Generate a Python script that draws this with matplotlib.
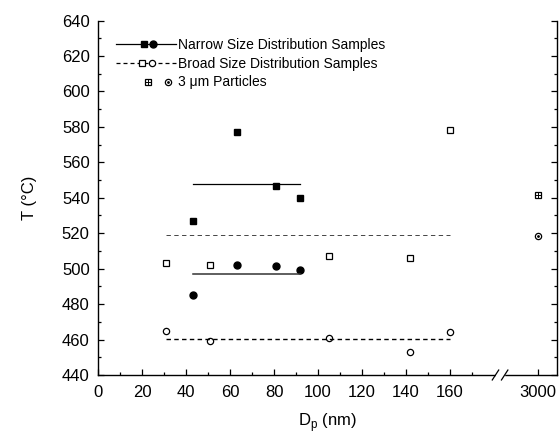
import numpy as np
import matplotlib
matplotlib.use("Agg")
import matplotlib.pyplot as plt
from matplotlib.lines import Line2D
from matplotlib.legend_handler import HandlerBase
from matplotlib.ticker import FixedLocator, FixedFormatter

plt.rcParams['font.family'] = ['Liberation Sans', 'DejaVu Sans']

# ---------------- data ----------------
narrow_dp = [43, 63, 81, 92]
narrow_T_sq = [527, 577, 546.5, 540]
narrow_T_circ = [485, 502, 501.5, 499]
narrow_mean_sq = 548
narrow_mean_circ = 497

broad_dp = [31, 51, 105, 142, 160]
broad_T_sq = [503, 502, 507, 506, 578]
broad_T_circ = [465, 459, 461, 453, 464]
broad_mean_sq = 519
broad_mean_circ = 460.5

particle_dp = [3000]
particle_T_sq = [541.5]
particle_T_circ = [518.5]

x_major = [0, 20, 40, 60, 80, 100, 120, 140, 160, 3000]
x_major_labels = ['0', '20', '40', '60', '80', '100', '120', '140', '160', '3000']
x_minor = [10, 30, 50, 70, 90, 110, 130, 150, 170]
y_major = list(range(440, 641, 20))

# -------------- broken x scale --------------
def fwd(x):
    x = np.asarray(x, float)
    return np.where(x <= 180, x,
                    np.where(x < 2900, 180 + (x - 180) / 2720 * 10,
                             190 + (x - 2900) * 0.1))

def inv(y):
    y = np.asarray(y, float)
    return np.where(y <= 180, y,
                    np.where(y < 190, 180 + (y - 180) * 272,
                             2900 + (y - 190) * 10))

fig = plt.figure(figsize=(5.59, 4.36), dpi=100)
ax = fig.add_axes([0.1753, 0.1399, 0.8211, 0.813])
ax.set_xscale('function', functions=(fwd, inv))
ax.set_xlim(0, 3086)
ax.set_ylim(440, 640)

ms = 5
# narrow
ax.plot(narrow_dp, narrow_T_sq, 's', color='black', ms=ms, ls='none')
ax.plot(narrow_dp, narrow_T_circ, 'o', color='black', ms=ms, ls='none')
ax.plot([narrow_dp[0], narrow_dp[-1]], [narrow_mean_sq] * 2, '-', color='black', lw=0.9)
ax.plot([narrow_dp[0], narrow_dp[-1]], [narrow_mean_circ] * 2, '-', color='#333333', lw=1.1)
# broad
ax.plot(broad_dp, broad_T_sq, 's', mfc='white', mec='black', mew=0.9, ms=ms, ls='none')
ax.plot(broad_dp, broad_T_circ, 'o', mfc='white', mec='black', mew=0.9, ms=ms - 0.5, ls='none')
ax.plot([broad_dp[0], broad_dp[-1]], [broad_mean_sq] * 2, color='#444444', lw=0.7, ls=(0, (4.5, 3.5)))
ax.plot([broad_dp[0], broad_dp[-1]], [broad_mean_circ] * 2, color='black', lw=1.0, ls=(0, (3.2, 2.4)))
# 3 um particles
ax.plot(particle_dp, particle_T_sq, 's', mfc='white', mec='black', mew=0.9, ms=ms, ls='none')
ax.plot(particle_dp, particle_T_sq, '+', color='black', mew=0.7, ms=ms, ls='none')
ax.plot(particle_dp, particle_T_circ, 'o', mfc='white', mec='black', mew=0.9, ms=ms - 0.5, ls='none')
ax.plot(particle_dp, particle_T_circ, '.', color='black', ms=2.0, ls='none')

# -------------- axes styling --------------
ax.spines['top'].set_visible(False)
for s in ['left', 'right', 'bottom']:
    ax.spines[s].set_linewidth(1.0)
ax.xaxis.set_major_locator(FixedLocator(x_major))
ax.xaxis.set_major_formatter(FixedFormatter(x_major_labels))
ax.xaxis.set_minor_locator(FixedLocator(x_minor))
ax.set_yticks(y_major)
ax.set_yticks(list(range(450, 640, 20)), minor=True)
ax.tick_params(axis='both', which='both', direction='in', labelsize=12)
ax.tick_params(axis='y', which='both', right=True, left=True)
ax.tick_params(axis='x', which='both', top=False)
ax.tick_params(which='major', length=4.5, width=0.9)
ax.tick_params(which='minor', length=2.5, width=0.9)
ax.tick_params(axis='y', pad=6)
ax.tick_params(axis='x', pad=7)

ax.set_ylabel('T (°C)', fontsize=12, labelpad=18)
ax.set_xlabel(r'D$_{\mathregular{p}}$ (nm)', fontsize=12, labelpad=8.5)

# axis break marks
bx1, bx2 = 0.866, 0.886
ax.plot([bx1 + 0.004, bx2 - 0.004], [0, 0], color='white', lw=2.5,
        transform=ax.transAxes, clip_on=False, zorder=5)
for bx in (bx1, bx2):
    ax.plot([bx - 0.007, bx + 0.007], [-0.014, 0.014], color='black', lw=0.9,
            transform=ax.transAxes, clip_on=False, zorder=6)

# -------------- legend --------------
class PairHandler(HandlerBase):
    def __init__(self, ls, lw, specs, fracs):
        super().__init__()
        self.ls = ls
        self.lw = lw
        self.specs = specs
        self.fracs = fracs

    def create_artists(self, legend, orig_handle, xdescent, ydescent,
                       width, height, fontsize, trans):
        y = height / 2 - ydescent
        arts = []
        if self.ls is not None:
            arts.append(Line2D([-xdescent, width - xdescent], [y, y],
                               ls=self.ls, lw=self.lw, color='black', transform=trans))
        for spec_list, f in zip(self.specs, self.fracs):
            for spec in spec_list:
                ln = Line2D([-xdescent + f * width], [y], ls='none', transform=trans, **spec)
                arts.append(ln)
        return arts

sq_filled = [dict(marker='s', color='black', ms=ms)]
ci_filled = [dict(marker='o', color='black', ms=ms)]
sq_open = [dict(marker='s', mfc='white', mec='black', mew=0.9, ms=ms)]
ci_open = [dict(marker='o', mfc='white', mec='black', mew=0.9, ms=ms - 0.5)]
sq_cross = sq_open + [dict(marker='+', color='black', mew=0.7, ms=ms)]
ci_dot = ci_open + [dict(marker='.', color='black', ms=2.0)]

h1, h2, h3 = Line2D([], []), Line2D([], []), Line2D([], [])
hmap = {
    h1: PairHandler('-', 0.9, [sq_filled, ci_filled], [0.47, 0.62]),
    h2: PairHandler((0, (3.2, 2.4)), 0.9, [sq_open, ci_open], [0.43, 0.59]),
    h3: PairHandler(None, 0.9, [sq_cross, ci_dot], [0.53, 0.87]),
}
leg = ax.legend([h1, h2, h3],
                ['Narrow Size Distribution Samples',
                 'Broad Size Distribution Samples',
                 '3 μm Particles'],
                handler_map=hmap, frameon=False, fontsize=10,
                handlelength=4.3, handletextpad=0.15, labelspacing=0.35,
                loc='upper left', bbox_to_anchor=(0.022, 0.975), borderaxespad=0.2)

fig.savefig('out.png', dpi=100)
